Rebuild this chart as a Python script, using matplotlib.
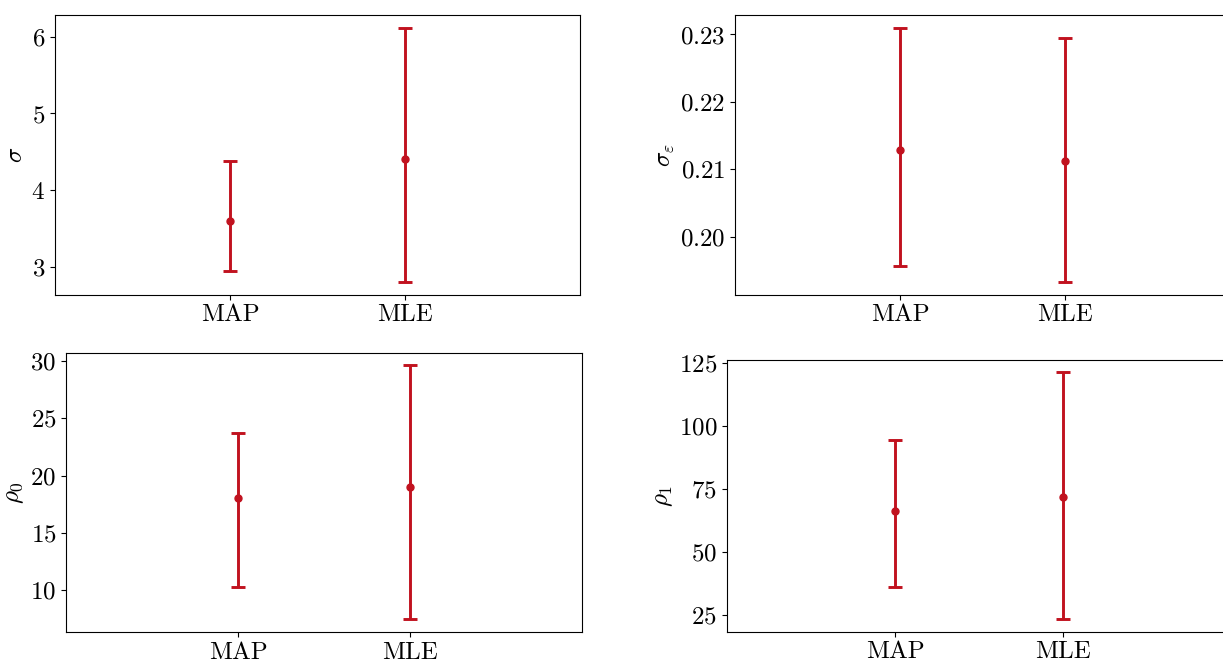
import numpy as np
import matplotlib
matplotlib.use('Agg')
import matplotlib.pyplot as plt

### Fonts: Computer Modern look
plt.rcParams['font.family'] = 'serif'
plt.rcParams['font.serif'] = ['cmr10', 'DejaVu Serif']
plt.rcParams['mathtext.fontset'] = 'cm'
plt.rcParams['axes.formatter.use_mathtext'] = True
plt.rcParams['axes.unicode_minus'] = False

#%% Data
methods = ['MAP', 'MLE']
xpos = [1, 2]

sigma_mid = [3.60, 4.40]
sigma_lo = [2.94, 2.80]
sigma_hi = [4.38, 6.12]

sigeps_mid = [0.2128, 0.2113]
sigeps_lo = [0.1957, 0.1933]
sigeps_hi = [0.2310, 0.2295]

rho0_mid = [18.0, 19.0]
rho0_lo = [10.26, 7.44]
rho0_hi = [23.72, 29.65]

rho1_mid = [66.3, 71.6]
rho1_lo = [35.9, 23.3]
rho1_hi = [94.4, 121.2]

labels = [r'$\sigma$', r'$\sigma_\varepsilon$', r'$\rho_0$', r'$\rho_1$']
panels = [
    (sigma_mid, sigma_lo, sigma_hi),
    (sigeps_mid, sigeps_lo, sigeps_hi),
    (rho0_mid, rho0_lo, rho0_hi),
    (rho1_mid, rho1_lo, rho1_hi),
]

### Axes rectangles (figure fractions), mimicking the cropped original
rects = [
    [0.0450, 0.5551, 0.4293, 0.4222],
    [0.6010, 0.5551, 0.4047, 0.4222],
    [0.0540, 0.0453, 0.4219, 0.4222],
    [0.5944, 0.0459, 0.4121, 0.4106],
]

color = '#c1121f'
fs = 18

fig = plt.figure(figsize=(12.23, 6.62), dpi=100)
for rect, (mid, lo, hi), lab in zip(rects, panels, labels):
    ax = fig.add_axes(rect)
    mid = np.array(mid)
    yerr = [mid - np.array(lo), np.array(hi) - mid]
    ax.errorbar(
        xpos, mid, yerr=yerr, fmt='o', color=color, ecolor=color,
        ms=5, elinewidth=2.1, capsize=5, capthick=2.1,
    )
    ax.set_xlim(0, 3)
    ax.set_xticks(xpos)
    ax.set_xticklabels(methods)
    ax.tick_params(labelsize=fs)
    ax.set_ylabel(lab, fontsize=fs, labelpad=3)

fig.savefig('out.png', dpi=100)
